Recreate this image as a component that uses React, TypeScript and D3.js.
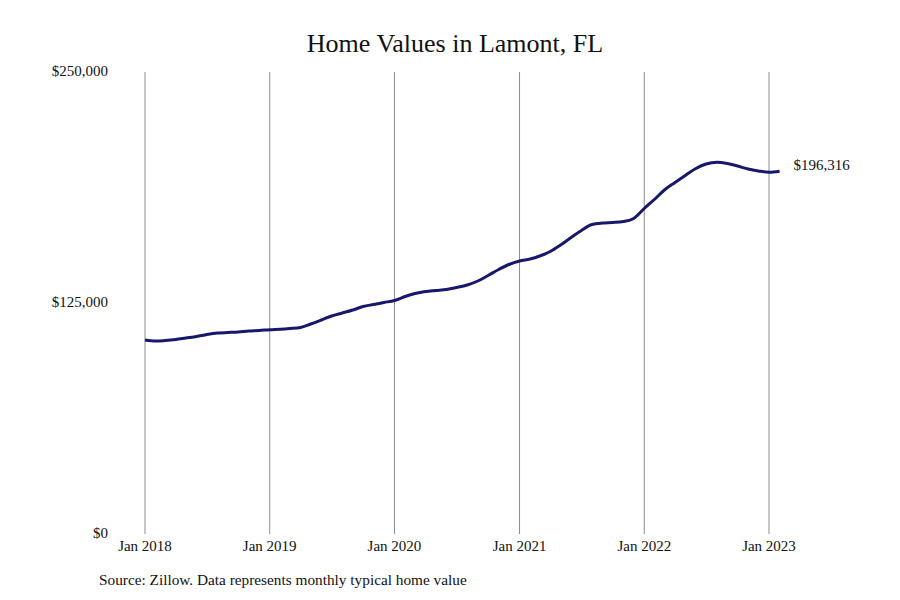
import { useEffect, useRef } from 'react'
import * as d3 from 'd3'

const title = 'Home Values in Lamont, FL'
const source = 'Source: Zillow. Data represents monthly typical home value'
const startMonth = new Date(2018, 0, 1)

// monthly typical home value, Jan 2018 .. Feb 2023
const values = [
  105000, 104400, 104700, 105250, 106060, 106870, 107950, 108770, 109040, 109310, 109850, 110120,
  110550, 110820, 111200, 111740, 113640, 115800, 117970, 119590, 121210, 123110, 124190, 125270,
  126350, 128520, 130140, 131220, 131770, 132310, 133390, 134740, 136910, 139880, 143130, 145840,
  147730, 148810, 150430, 152870, 156390, 160450, 164230, 167480, 168290, 168560, 169100, 170730,
  176140, 181280, 186150, 190210, 194000, 197780, 200220, 201140, 200490, 199140, 197510, 196430,
  195730, 196316,
]
const yTicks = [0, 125000, 250000]
const xTickYears = [2018, 2019, 2020, 2021, 2022, 2023]

const font = '"Liberation Serif", serif'

export default function App() {
  const svgRef = useRef<SVGSVGElement>(null)
  const width = 900
  const height = 600

  useEffect(() => {
    if (!svgRef.current) return
    const svg = d3.select(svgRef.current)
    svg.selectAll('*').remove()

    const margin = { top: 72, right: 131, bottom: 66, left: 145 }

    const data = values.map((v, i) => ({
      date: d3.timeMonth.offset(startMonth, i),
      value: v,
    }))

    const x = d3.scaleTime()
      .domain([new Date(2018, 0, 1), new Date(2023, 0, 1)])
      .range([margin.left, width - margin.right])

    const y = d3.scaleLinear()
      .domain([0, 250000])
      .range([height - margin.bottom, margin.top])

    svg.append('rect')
      .attr('width', width)
      .attr('height', height)
      .attr('fill', '#fff')

    // title
    svg.append('text')
      .attr('x', 455)
      .attr('y', 52)
      .attr('text-anchor', 'middle')
      .style('font-family', font)
      .style('font-size', '26px')
      .attr('fill', '#111')
      .text(title)

    // vertical gridlines
    svg.append('g')
      .selectAll('line')
      .data(xTickYears)
      .join('line')
      .attr('x1', d => x(new Date(d, 0, 1)))
      .attr('x2', d => x(new Date(d, 0, 1)))
      .attr('y1', y(250000))
      .attr('y2', y(0))
      .attr('stroke', '#8c8c8c')
      .attr('stroke-width', 1)

    // x labels
    svg.append('g')
      .selectAll('text')
      .data(xTickYears)
      .join('text')
      .attr('x', d => x(new Date(d, 0, 1)))
      .attr('y', y(0) + 17)
      .attr('text-anchor', 'middle')
      .style('font-family', font)
      .style('font-size', '15px')
      .attr('fill', '#111')
      .text(d => `Jan ${d}`)

    // y labels
    svg.append('g')
      .selectAll('text')
      .data(yTicks)
      .join('text')
      .attr('x', 108)
      .attr('y', d => y(d) + 4)
      .attr('text-anchor', 'end')
      .style('font-family', font)
      .style('font-size', '15px')
      .attr('fill', '#111')
      .text(d => d3.format('$,')(d))

    const line = d3.line<typeof data[0]>()
      .x(d => x(d.date))
      .y(d => y(d.value))
      .curve(d3.curveMonotoneX)

    svg.append('path')
      .datum(data)
      .attr('fill', 'none')
      .attr('stroke', '#17176b')
      .attr('stroke-width', 3)
      .attr('stroke-linejoin', 'round')
      .attr('d', line)

    const last = data[data.length - 1]
    svg.append('text')
      .attr('x', x(last.date) + 14)
      .attr('y', y(last.value) - 5)
      .attr('dominant-baseline', 'middle')
      .style('font-family', font)
      .style('font-size', '15px')
      .attr('fill', '#111')
      .text(d3.format('$,')(last.value))

    svg.append('text')
      .attr('x', 99)
      .attr('y', 585)
      .style('font-family', font)
      .style('font-size', '15.3px')
      .attr('fill', '#111')
      .text(source)
  }, [])

  return (
    <svg
      ref={svgRef}
      width={width}
      height={height}
      style={{ position: 'absolute', left: 0, top: 0, display: 'block' }}
    />
  )
}
